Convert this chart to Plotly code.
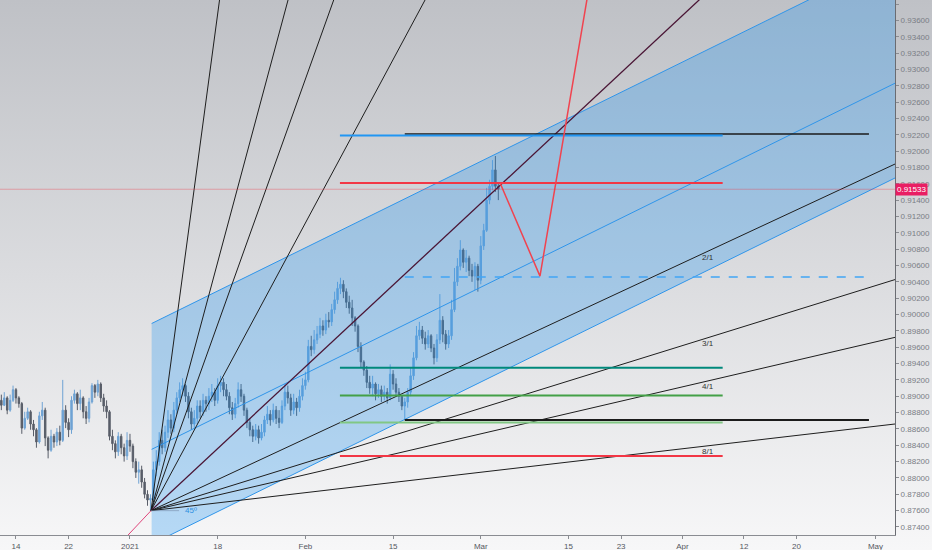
import base64
import plotly.graph_objects as go

# ---------------- data ----------------
# x positions are trading-day indices (weekends / holidays removed); 0 = 14 Dec 2020
tick_pos = [0, 6, 13, 23, 33, 43, 53, 63, 69, 76, 83, 89, 98]
tick_text = ["14", "22", "2021", "18", "Feb", "15", "Mar", "15", "23", "Apr", "12", "20", "May"]

bar_start = -1.6667      # index of first bar
bars_per_day = 3         # 8h bars
open_first = 0.8895

closes = [
    0.8889, 0.8898, 0.8883, 0.8895, 0.8908, 0.8898, 0.8891, 0.8861, 0.8873, 0.8881,
    0.8866, 0.8859, 0.8844, 0.8876, 0.8883, 0.8849, 0.8834, 0.8851, 0.8844, 0.8856,
    0.8846, 0.8883, 0.8868, 0.8859, 0.8895, 0.8903, 0.8891, 0.8898, 0.8881, 0.8873,
    0.8893, 0.8913, 0.8905, 0.8915, 0.8898, 0.8888, 0.8881, 0.8851, 0.8842, 0.8832,
    0.8851, 0.8837, 0.8827, 0.8846, 0.8839, 0.8820, 0.8807, 0.8810, 0.8795, 0.8780,
    0.8773, 0.8775, 0.8810, 0.8820, 0.8846, 0.8837, 0.8856, 0.8871, 0.8861, 0.8883,
    0.8898, 0.8908, 0.8913, 0.8900, 0.8881, 0.8866, 0.8873, 0.8888, 0.8881, 0.8895,
    0.8891, 0.8900, 0.8905, 0.8895, 0.8913, 0.8917, 0.8908, 0.8900, 0.8886, 0.8878,
    0.8891, 0.8908, 0.8900, 0.8883, 0.8868, 0.8859, 0.8851, 0.8859, 0.8849, 0.8856,
    0.8871, 0.8878, 0.8871, 0.8883, 0.8873, 0.8868, 0.8888, 0.8905, 0.8898, 0.8883,
    0.8893, 0.8886, 0.8900, 0.8913, 0.8920, 0.8961, 0.8957, 0.8969, 0.8976, 0.8986,
    0.8981, 0.8993, 0.8991, 0.9006, 0.9018, 0.9032, 0.9037, 0.9028, 0.9015, 0.9008,
    0.8996, 0.8986, 0.8961, 0.8942, 0.8932, 0.8917, 0.8910, 0.8915, 0.8903, 0.8908,
    0.8900, 0.8905, 0.8898, 0.8927, 0.8915, 0.8905, 0.8900, 0.8888, 0.8893, 0.8905,
    0.8925, 0.8947, 0.8974, 0.8981, 0.8971, 0.8964, 0.8974, 0.8959, 0.8947, 0.8969,
    0.8993, 0.8976, 0.8964, 0.8974, 0.9006, 0.9040, 0.9059, 0.9079, 0.9064, 0.9069,
    0.9054, 0.9047, 0.9059, 0.9042, 0.9084, 0.9103, 0.9140, 0.9157, 0.9177, 0.9157,
    0.91533,
]
highs = [
    0.8902, 0.8905, 0.8900, 0.8902, 0.8913, 0.8910, 0.8900, 0.8893, 0.8881, 0.8886,
    0.8883, 0.8871, 0.8861, 0.8881, 0.8893, 0.8886, 0.8851, 0.8859, 0.8854, 0.8861,
    0.8864, 0.8920, 0.8889, 0.8873, 0.8900, 0.8908, 0.8905, 0.8908, 0.8900, 0.8888,
    0.8898, 0.8916, 0.8915, 0.8920, 0.8917, 0.8903, 0.8895, 0.8883, 0.8859, 0.8846,
    0.8856, 0.8854, 0.8842, 0.8856, 0.8854, 0.8842, 0.8824, 0.8820, 0.8815, 0.8800,
    0.8785, 0.8780, 0.8820, 0.8834, 0.8856, 0.8859, 0.8864, 0.8883, 0.8878, 0.8893,
    0.8905, 0.8917, 0.8922, 0.8915, 0.8905, 0.8886, 0.8883, 0.8895, 0.8895, 0.8903,
    0.8900, 0.8910, 0.8915, 0.8910, 0.8922, 0.8925, 0.8922, 0.8915, 0.8905, 0.8893,
    0.8898, 0.8917, 0.8915, 0.8903, 0.8886, 0.8873, 0.8864, 0.8866, 0.8864, 0.8866,
    0.8876, 0.8888, 0.8883, 0.8891, 0.8888, 0.8883, 0.8895, 0.8915, 0.8913, 0.8903,
    0.8903, 0.8898, 0.8908, 0.8922, 0.8930, 0.8969, 0.8974, 0.8981, 0.8986, 0.8996,
    0.8993, 0.9001, 0.9003, 0.9013, 0.9028, 0.9040, 0.9045, 0.9042, 0.9032, 0.9023,
    0.9018, 0.8998, 0.8988, 0.8966, 0.8944, 0.8937, 0.8925, 0.8925, 0.8917, 0.8915,
    0.8913, 0.8913, 0.8910, 0.8939, 0.8932, 0.8922, 0.8910, 0.8900, 0.8898, 0.8910,
    0.8935, 0.8954, 0.8986, 0.8991, 0.8986, 0.8979, 0.8981, 0.8976, 0.8964, 0.8976,
    0.9025, 0.8998, 0.8981, 0.8981, 0.9018, 0.9057, 0.9069, 0.9091, 0.9081, 0.9079,
    0.9072, 0.9062, 0.9064, 0.9062, 0.9096, 0.9111, 0.9155, 0.9165, 0.9189, 0.9194,
    0.9162,
]
lows = [
    0.8883, 0.8888, 0.8878, 0.8881, 0.8893, 0.8891, 0.8886, 0.8854, 0.8859, 0.8871,
    0.8859, 0.8851, 0.8837, 0.8842, 0.8871, 0.8839, 0.8824, 0.8832, 0.8837, 0.8839,
    0.8840, 0.8844, 0.8861, 0.8850, 0.8854, 0.8891, 0.8883, 0.8883, 0.8873, 0.8866,
    0.8868, 0.8891, 0.8898, 0.8900, 0.8893, 0.8881, 0.8873, 0.8846, 0.8834, 0.8824,
    0.8827, 0.8829, 0.8820, 0.8822, 0.8832, 0.8812, 0.8800, 0.8793, 0.8788, 0.8775,
    0.8766, 0.8760, 0.8773, 0.8802, 0.8815, 0.8829, 0.8832, 0.8849, 0.8854, 0.8856,
    0.8878, 0.8893, 0.8900, 0.8893, 0.8873, 0.8859, 0.8861, 0.8866, 0.8873, 0.8876,
    0.8881, 0.8883, 0.8893, 0.8888, 0.8891, 0.8905, 0.8900, 0.8895, 0.8878, 0.8871,
    0.8873, 0.8886, 0.8893, 0.8876, 0.8861, 0.8851, 0.8844, 0.8846, 0.8842, 0.8846,
    0.8851, 0.8866, 0.8864, 0.8868, 0.8866, 0.8861, 0.8866, 0.8883, 0.8891, 0.8876,
    0.8878, 0.8876, 0.8881, 0.8895, 0.8908, 0.8917, 0.8949, 0.8952, 0.8964, 0.8971,
    0.8974, 0.8976, 0.8984, 0.8986, 0.9001, 0.9013, 0.9025, 0.9020, 0.9008, 0.9001,
    0.8986, 0.8979, 0.8954, 0.8935, 0.8925, 0.8910, 0.8903, 0.8900, 0.8895, 0.8898,
    0.8893, 0.8895, 0.8891, 0.8895, 0.8908, 0.8900, 0.8893, 0.8883, 0.8871, 0.8886,
    0.8900, 0.8920, 0.8944, 0.8969, 0.8964, 0.8957, 0.8959, 0.8954, 0.8939, 0.8942,
    0.8964, 0.8966, 0.8957, 0.8959, 0.8969, 0.9003, 0.9035, 0.9054, 0.9057, 0.9052,
    0.9047, 0.9040, 0.9030, 0.9028, 0.9037, 0.9079, 0.9101, 0.9135, 0.9152, 0.9150,
    0.9140,
]
last_price = 0.91533

# parallel channel anchors (left edge / extended right end)
channel_x = [15.47, 104.0]
channel_upper = [0.8989, 0.9457]
channel_mid = [0.8835, 0.9303]
channel_lower = [0.8719, 0.9187]

# Gann fan
fan_origin_x = 15.4
fan_origin_y = 0.8760
fan_unit = 0.0010            # price per trading day on the 1/1 line
fan_ratios = [(1, 8), (1, 4), (1, 3), (1, 2), (1, 1), (2, 1), (3, 1), (4, 1), (8, 1)]
fan_end_x = 104.0
fan_label_x = 78.9

# horizontal levels
level_values = [0.9221, 0.9219, 0.9161, 0.9046, 0.8935, 0.8901, 0.8871, 0.8868, 0.8827]
level_start = [44.33, 36.94, 36.94, 44.33, 36.94, 36.94, 44.33, 36.94, 36.94]
level_end = [97.26, 80.58, 80.58, 97.1, 80.58, 80.58, 97.26, 80.58, 80.58]

# projected path
zig_x = [55.2, 59.75, 66.0]
zig_y = [0.9161, 0.9047, 0.9442]

# trend line tail below the fan origin
tail_x = [15.4, 10.4]
tail_y = [0.8760, 0.8703]
angle_x = [15.4, 18.6]
angle_label_x = 20.0

# ---------------- styles ----------------
level_colors = ["#1b1b1b", "#2196f3", "#f23645", "#42a5f5", "#00897b", "#43a047", "#1b1b1b", "#81c784", "#f23645"]
level_widths = [1.5, 2, 2, 1.5, 2, 2, 2, 2, 2]
level_dash = ["solid", "solid", "solid", "dash", "solid", "solid", "solid", "solid", "solid"]

FONT = "Liberation Sans"

bar_x = [bar_start + i / bars_per_day for i in range(len(closes))]
opens = [open_first] + closes[:-1]

fig = go.Figure()

fig.add_trace(go.Candlestick(
    x=bar_x, open=opens, high=highs, low=lows, close=closes,
    increasing=dict(line=dict(color="#6fa3d4", width=1), fillcolor="#6fa3d4"),
    decreasing=dict(line=dict(color="#585d68", width=1), fillcolor="#585d68"),
    whiskerwidth=0, hoverinfo="skip", showlegend=False,
))

# channel fill (drawn on top of candles, semi-transparent)
fig.add_trace(go.Scatter(
    x=[channel_x[0], channel_x[1], channel_x[1], channel_x[0], channel_x[0]],
    y=[channel_upper[0], channel_upper[1], channel_lower[1], channel_lower[0], channel_upper[0]],
    fill="toself", fillcolor="rgba(33,150,243,0.30)", line=dict(width=0),
    mode="lines", hoverinfo="skip", showlegend=False,
))
for ys in (channel_upper, channel_mid, channel_lower):
    fig.add_trace(go.Scatter(x=channel_x, y=ys, mode="lines",
                             line=dict(color="#2f95ea", width=1),
                             hoverinfo="skip", showlegend=False))

# Gann fan
for a, b in fan_ratios:
    slope = fan_unit * b / a
    ye = fan_origin_y + slope * (fan_end_x - fan_origin_x)
    is_main = (a, b) == (1, 1)
    col = "#4a1535" if is_main else "#1e1e1e"
    fig.add_trace(go.Scatter(x=[fan_origin_x, fan_end_x], y=[fan_origin_y, ye], mode="lines",
                             line=dict(color=col, width=1.3 if is_main else 1),
                             hoverinfo="skip", showlegend=False))
    if a > 1:
        fig.add_annotation(x=fan_label_x, y=fan_origin_y + slope * (fan_label_x - fan_origin_x),
                           text=f"{a}/{b}", showarrow=False, yshift=-6, xanchor="center",
                           font=dict(family=FONT, size=8, color="#333333"))

# tail & angle marker
fig.add_trace(go.Scatter(x=tail_x, y=tail_y, mode="lines", line=dict(color="#e0457b", width=1),
                         hoverinfo="skip", showlegend=False))
fig.add_trace(go.Scatter(x=angle_x, y=[fan_origin_y, fan_origin_y], mode="lines",
                         line=dict(color="rgba(120,140,170,0.6)", width=1),
                         hoverinfo="skip", showlegend=False))
fig.add_annotation(x=angle_label_x, y=fan_origin_y, text="45º", showarrow=False,
                   font=dict(family=FONT, size=8, color="#2f8fe0"), xanchor="center")

# horizontal levels
for v, xs, xe, c, w, d in zip(level_values, level_start, level_end, level_colors, level_widths, level_dash):
    fig.add_trace(go.Scatter(x=[xs, xe], y=[v, v], mode="lines",
                             line=dict(color=c, width=w, dash=d),
                             hoverinfo="skip", showlegend=False))

# projection
fig.add_trace(go.Scatter(x=zig_x, y=zig_y, mode="lines", line=dict(color="#f0434f", width=1.5),
                         hoverinfo="skip", showlegend=False))

# last price line & label
fig.add_shape(type="line", xref="paper", x0=0, x1=1, yref="y", y0=last_price, y1=last_price,
              line=dict(color="rgba(242,54,69,0.35)", width=1))
fig.add_annotation(xref="paper", x=1, y=last_price, text=f"{last_price:.5f}", showarrow=False,
                   xanchor="left", bgcolor="#e91e63", borderpad=1,
                   font=dict(family=FONT, size=8, color="white"))

# gradient background
svg = ('<svg xmlns="http://www.w3.org/2000/svg" viewBox="0 0 10 100" width="10" height="100" '
       'preserveAspectRatio="none"><defs><linearGradient id="g" x1="0" y1="0" x2="0" y2="1">'
       '<stop offset="0" stop-color="#bfc1c6"/><stop offset="1" stop-color="#f7f7f8"/>'
       '</linearGradient></defs><rect width="10" height="100" fill="url(#g)"/></svg>')
src = "data:image/svg+xml;base64," + base64.b64encode(svg.encode()).decode()
fig.add_layout_image(source=src, xref="paper", yref="paper", x=0, y=1,
                     sizex=932 / 895, sizey=550 / 535, sizing="stretch", layer="below",
                     xanchor="left", yanchor="top")

fig.update_layout(
    width=932, height=550,
    margin=dict(l=0, r=37, t=0, b=15, autoexpand=False),
    paper_bgcolor="#eeeef0", plot_bgcolor="rgba(0,0,0,0)",
    showlegend=False,
    font=dict(family=FONT, size=8, color="#6a6d78"),
    xaxis=dict(range=[-1.82, 100.23], tickvals=tick_pos, ticktext=tick_text,
               showgrid=False, zeroline=False, showline=True, linecolor="#8a8c92", linewidth=1,
               ticks="outside", ticklen=3, tickcolor="#8a8c92", rangeslider=dict(visible=False),
               tickfont=dict(family=FONT, size=8, color="#55585f"), fixedrange=True),
    yaxis=dict(range=[0.87302, 0.93849], side="right", dtick=0.002, tick0=0.874,
               tickformat=".5f", showgrid=False, zeroline=False, showline=True,
               linecolor="#6a6c72", linewidth=1, ticks="outside", ticklen=3, tickcolor="#8a8c92",
               tickfont=dict(family=FONT, size=8, color="#7a7d85"), fixedrange=True),
)

fig.write_html("out.html", config={"displayModeBar": False},
               post_script="document.body.style.margin='0';document.body.style.overflow='hidden';")
